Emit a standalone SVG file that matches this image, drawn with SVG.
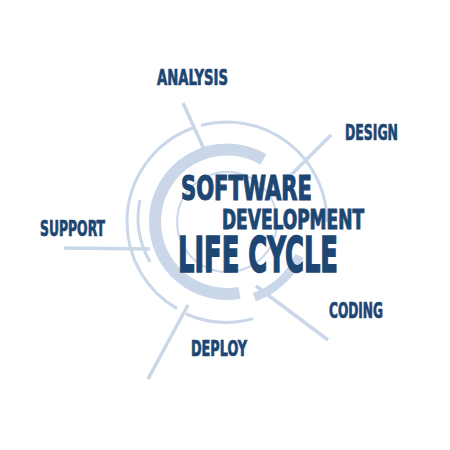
<svg xmlns="http://www.w3.org/2000/svg" width="450" height="450" viewBox="0 0 450 450">
<style>
.ring{fill:none;stroke:#c9d7e9;}
.conn{stroke:#c9d7e9;stroke-width:3.5;stroke-linecap:butt;fill:none;}
.lbl{font-family:"DejaVu Sans Condensed","DejaVu Sans",sans-serif;font-weight:bold;fill:#1d4672;stroke:#1d4672;stroke-width:0.7;font-size:21px;}
.title{font-family:"DejaVu Sans Condensed","DejaVu Sans",sans-serif;font-weight:bold;fill:#1d4672;stroke:#1d4672;}
</style>
<rect width="450" height="450" fill="#ffffff"/>
<g id="rings">
<path class="ring" stroke-width="3" d="M 192.8 128 A 100 100 0 0 0 127 222 A 100 100 0 0 0 177 308.6"/>
<path class="ring" stroke-width="3" d="M 201.1 125.4 A 100 100 0 0 1 327 222"/>
<path class="ring" stroke-width="3" d="M 186 314 A 100 100 0 0 0 252.9 318.6"/>
<path class="ring" stroke-width="3" d="M 140 200 A 88 88 0 0 0 150 262"/>
<path class="ring" stroke-width="12" d="M 263.5 159.4 A 72 72 0 0 0 155 222 A 72 72 0 0 0 239.5 292.9"/>
<path class="ring" stroke-width="2" d="M 227 172 A 50 50 0 1 0 227.1 172"/>
<path class="ring" stroke-width="9" d="M 299.5 255.8 A 80 80 0 0 1 254.4 297.2"/>
</g>
<g id="connectors">
<line class="conn" x1="183" y1="103" x2="208" y2="158"/>
<line class="conn" x1="331" y1="135" x2="288" y2="178"/>
<line class="conn" x1="64" y1="248" x2="150" y2="249"/>
<line class="conn" x1="256" y1="286" x2="328" y2="340"/>
<line class="conn" x1="188" y1="305" x2="148" y2="379"/>
</g>
<g id="title">
<text class="title" x="181" y="200" font-size="34" stroke-width="1.2" textLength="131" lengthAdjust="spacingAndGlyphs">SOFTWARE</text>
<text class="title" x="222" y="229" font-size="27" stroke-width="1" textLength="142" lengthAdjust="spacingAndGlyphs">DEVELOPMENT</text>
<text class="title" x="178" y="272" font-size="50" stroke-width="1.6" textLength="160" lengthAdjust="spacingAndGlyphs">LIFE CYCLE</text>
</g>
<g id="analysis"><text class="lbl" x="157" y="85" textLength="71" lengthAdjust="spacingAndGlyphs">ANALYSIS</text></g>
<g id="design"><text class="lbl" x="345" y="140" textLength="53" lengthAdjust="spacingAndGlyphs">DESIGN</text></g>
<g id="support"><text class="lbl" x="40" y="236" textLength="65" lengthAdjust="spacingAndGlyphs">SUPPORT</text></g>
<g id="coding"><text class="lbl" x="329" y="318" textLength="54" lengthAdjust="spacingAndGlyphs">CODING</text></g>
<g id="deploy"><text class="lbl" x="191" y="356" textLength="56" lengthAdjust="spacingAndGlyphs">DEPLOY</text></g>
</svg>
